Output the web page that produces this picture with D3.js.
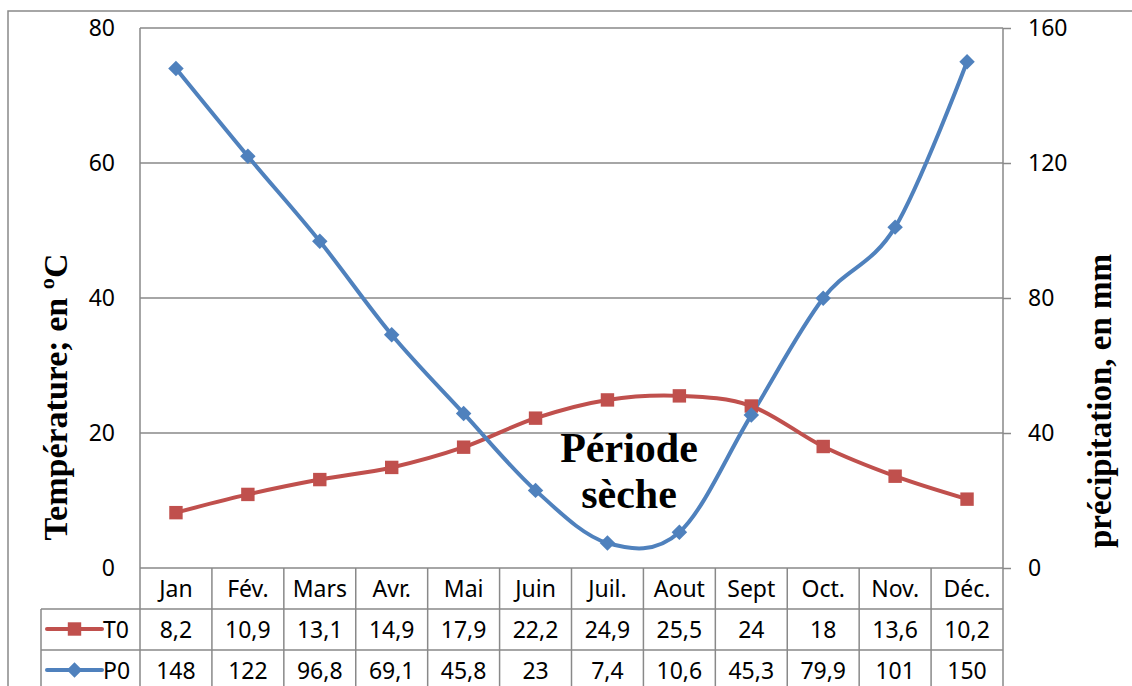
<!DOCTYPE html>
<html>
  <head>
    <meta http-equiv="Content-Type" content="text/html;charset=utf-8">
    <title>Température et précipitation</title>
    <script src="https://d3js.org/d3.v7.min.js"></script>
    <style type="text/css">
body {
    margin: 0;
    background: #fff;
}
text {
    font-family: "Noto Sans", sans-serif;
    font-size: 23px;
    fill: #000;
}
.grid line, .table line, .frame {
    stroke: #898989;
    stroke-width: 1.5px;
    fill: none;
}
.title {
    font-family: "Liberation Serif", "Times New Roman", serif;
    font-weight: bold;
    font-size: 33px;
}
.dry {
    font-family: "Liberation Serif", "Times New Roman", serif;
    font-weight: bold;
    font-size: 42px;
}
    </style>
  </head>
  <body>
    <script type="text/javascript">
// data
var months = ['Jan', 'Fév.', 'Mars', 'Avr.', 'Mai', 'Juin', 'Juil.', 'Aout', 'Sept', 'Oct.', 'Nov.', 'Déc.'];
var tempValues = [8.2, 10.9, 13.1, 14.9, 17.9, 22.2, 24.9, 25.5, 24, 18, 13.6, 10.2];
var precipValues = [148, 122, 96.8, 69.1, 45.8, 23, 7.4, 10.6, 45.3, 79.9, 101, 150];
var tempTicks = [0, 20, 40, 60, 80];
var precipTicks = [0, 40, 80, 120, 160];

// chart
var w = 1132,
    h = 686,
    pLeft = 140,
    pRight = 1003,
    pTop = 28,
    pBottom = 568,
    rowH = 41,
    red = '#C0504D',
    blue = '#4F81BD';

var svg = d3.select('body').append('svg')
    .attr('width', w)
    .attr('height', h);

svg.append('rect')
    .attr('class', 'frame')
    .attr('x', 8)
    .attr('y', 11)
    .attr('width', w)
    .attr('height', h);

var x = d3.scaleBand().domain(months).range([pLeft, pRight]);
var yL = d3.scaleLinear().domain([0, 80]).range([pBottom, pTop]);
var yR = d3.scaleLinear().domain([0, 160]).range([pBottom, pTop]);
var cx = function(d, i) { return x(months[i]) + x.bandwidth() / 2 };

// gridlines
svg.append('g')
    .attr('class', 'grid')
  .selectAll('line')
    .data(tempTicks)
  .enter().append('line')
    .attr('x1', pLeft)
    .attr('x2', pRight)
    .attr('y1', function(d) { return yL(d) })
    .attr('y2', function(d) { return yL(d) });

svg.append('line')
    .attr('class', 'frame')
    .attr('x1', pLeft).attr('x2', pLeft)
    .attr('y1', pTop).attr('y2', pBottom + 3 * rowH);

svg.append('line')
    .attr('class', 'frame')
    .attr('x1', pRight).attr('x2', pRight)
    .attr('y1', pTop).attr('y2', pBottom + 3 * rowH);

// axes
var axL = svg.append('g')
    .attr('transform', 'translate(' + pLeft + ',0)')
    .call(d3.axisLeft(yL).tickValues(tempTicks).tickSize(0).tickPadding(25));
axL.select('.domain').remove();

var axR = svg.append('g')
    .attr('transform', 'translate(' + pRight + ',0)')
    .call(d3.axisRight(yR).tickValues(precipTicks).tickSize(8).tickPadding(17));
axR.select('.domain').remove();
axR.selectAll('line').attr('stroke', '#898989').attr('stroke-width', 1.5);

svg.selectAll('.tick text')
    .attr('font-family', '"Noto Sans", sans-serif')
    .attr('font-size', 23);

// axis titles
svg.append('text')
    .attr('class', 'title')
    .attr('text-anchor', 'middle')
    .style('font-size', '34px')
    .attr('transform', 'translate(67,397) rotate(-90)')
    .text('Température; en ºC');

svg.append('text')
    .attr('class', 'title')
    .attr('text-anchor', 'middle')
    .attr('transform', 'translate(1111,401) rotate(-90)')
    .text('précipitation, en mm');

// table
var table = svg.append('g').attr('class', 'table');
table.append('line')
    .attr('x1', 41).attr('x2', pRight)
    .attr('y1', pBottom + rowH).attr('y2', pBottom + rowH);
table.append('line')
    .attr('x1', 41).attr('x2', pRight)
    .attr('y1', pBottom + 2 * rowH).attr('y2', pBottom + 2 * rowH);
table.append('line')
    .attr('x1', 41).attr('x2', 41)
    .attr('y1', pBottom + rowH).attr('y2', h + 10);
table.selectAll('line.v')
    .data(months.slice(1))
  .enter().append('line')
    .attr('class', 'v')
    .attr('x1', function(d) { return x(d) })
    .attr('x2', function(d) { return x(d) })
    .attr('y1', pBottom)
    .attr('y2', h + 10);

var fmt = function(v) { return String(v).replace('.', ',') };
var rows = [months, tempValues.map(fmt), precipValues.map(fmt)];
rows.forEach(function(row, r) {
    table.selectAll('text.r' + r)
        .data(row)
      .enter().append('text')
        .attr('class', 'r' + r)
        .attr('text-anchor', 'middle')
        .attr('x', cx)
        .attr('y', pBottom + r * rowH + 29)
        .text(function(d) { return d });
});

// series
var line = function(y) {
    return d3.line()
        .x(cx)
        .y(function(d) { return y(d) })
        .curve(d3.curveCatmullRom.alpha(0));
};

svg.append('path')
    .datum(tempValues)
    .attr('fill', 'none')
    .attr('stroke', red)
    .attr('stroke-width', 4)
    .attr('d', line(yL));

svg.append('path')
    .datum(precipValues)
    .attr('fill', 'none')
    .attr('stroke', blue)
    .attr('stroke-width', 4)
    .attr('d', line(yR));

var square = d3.symbol().type(d3.symbolSquare).size(180);
var diamond = d3.symbol().type(d3.symbolSquare).size(120);

svg.selectAll('path.t')
    .data(tempValues)
  .enter().append('path')
    .attr('class', 't')
    .attr('fill', red)
    .attr('d', square)
    .attr('transform', function(d, i) { return 'translate(' + cx(d, i) + ',' + yL(d) + ')' });

svg.selectAll('path.p')
    .data(precipValues)
  .enter().append('path')
    .attr('class', 'p')
    .attr('fill', blue)
    .attr('d', diamond)
    .attr('transform', function(d, i) { return 'translate(' + cx(d, i) + ',' + yR(d) + ') rotate(45)' });

// legend keys
var keys = [{name: 'T0', color: red, shape: square, rot: 0},
            {name: 'P0', color: blue, shape: diamond, rot: 45}];
keys.forEach(function(k, i) {
    var yk = pBottom + (i + 1) * rowH + 20;
    svg.append('line')
        .attr('x1', 47).attr('x2', 102)
        .attr('y1', yk).attr('y2', yk)
        .attr('stroke', k.color)
        .attr('stroke-width', 4)
        .attr('stroke-linecap', 'round');
    svg.append('path')
        .attr('fill', k.color)
        .attr('d', k.shape)
        .attr('transform', 'translate(74.5,' + yk + ') rotate(' + k.rot + ')');
    svg.append('text')
        .attr('x', 103)
        .attr('y', pBottom + (i + 1) * rowH + 29)
        .text(k.name);
});

// annotation
svg.append('text')
    .attr('class', 'dry')
    .attr('text-anchor', 'middle')
    .attr('x', 629)
    .attr('y', 462)
    .text('Période');
svg.append('text')
    .attr('class', 'dry')
    .attr('text-anchor', 'middle')
    .attr('x', 629)
    .attr('y', 508)
    .text('sèche');
    </script>
  </body>
</html>
